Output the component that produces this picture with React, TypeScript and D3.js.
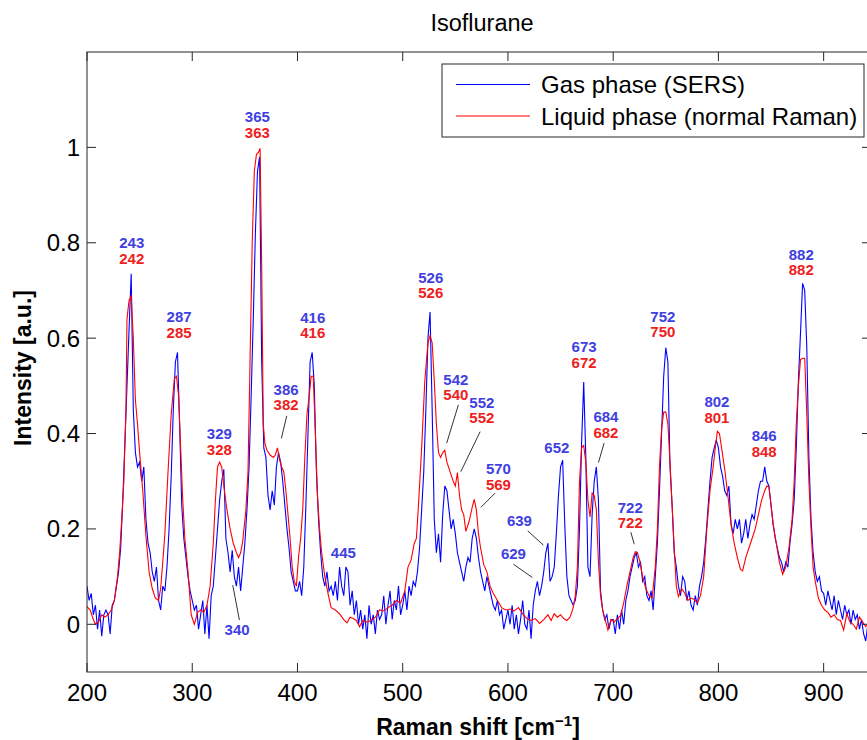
import React from "react";
import * as d3 from "d3";

// ---------- DATA ----------
const xTicks = [200, 300, 400, 500, 600, 700, 800, 900];
const yTicks = [0, 0.2, 0.4, 0.6, 0.8, 1];
const yTickLabels = ["0", "0.2", "0.4", "0.6", "0.8", "1"];

// Gas phase (SERS): sampled every 2 cm^-1 starting at 200
const gasStart = 200;
const gasStep = 2;
const gasValues = [
  0.080, 0.050, 0.065, 0.020, 0.040, -0.010, 0.030, -0.025, 0.020, 0.030,
  0.020, -0.020, 0.040, 0.050, 0.080, 0.110, 0.160, 0.260, 0.380, 0.500,
  0.620, 0.735, 0.450, 0.360, 0.330, 0.340, 0.300, 0.330, 0.220, 0.170,
  0.150, 0.110, 0.090, 0.120, 0.050, 0.030, 0.080, 0.070, 0.120, 0.200,
  0.310, 0.450, 0.550, 0.570, 0.420, 0.250, 0.180, 0.140, 0.100, 0.070,
  0.050, 0.030, 0.040, -0.010, 0.020, 0.050, -0.020, 0.040, -0.030, 0.060,
  0.080, 0.140, 0.200, 0.260, 0.300, 0.325, 0.180, 0.150, 0.110, 0.155,
  0.100, 0.080, 0.120, 0.070, 0.120, 0.170, 0.240, 0.330, 0.480, 0.640,
  0.820, 0.950, 0.980, 0.550, 0.370, 0.350, 0.270, 0.240, 0.280, 0.250,
  0.330, 0.360, 0.340, 0.300, 0.250, 0.200, 0.160, 0.110, 0.090, 0.070,
  0.070, 0.090, 0.060, 0.120, 0.250, 0.400, 0.550, 0.570, 0.500, 0.320,
  0.220, 0.150, 0.100, 0.080, 0.110, 0.070, 0.080, 0.060, 0.090, 0.050,
  0.120, 0.080, 0.060, 0.120, 0.110, 0.040, 0.070, 0.020, 0.050, 0.000,
  0.030, -0.010, 0.020, -0.030, 0.040, 0.000, 0.020, -0.020, 0.030, 0.010,
  0.020, 0.060, 0.000, 0.040, 0.070, 0.010, 0.050, 0.030, 0.080, 0.020,
  0.040, 0.070, 0.030, 0.080, 0.060, 0.090, 0.080, 0.110, 0.160, 0.240,
  0.320, 0.450, 0.600, 0.655, 0.450, 0.220, 0.150, 0.190, 0.130, 0.230,
  0.290, 0.280, 0.240, 0.200, 0.220, 0.190, 0.150, 0.130, 0.110, 0.090,
  0.120, 0.140, 0.130, 0.180, 0.200, 0.180, 0.140, 0.110, 0.090, 0.070,
  0.100, 0.080, 0.060, 0.040, 0.030, 0.050, 0.020, 0.030, -0.010, 0.010,
  0.030, 0.000, 0.040, -0.010, 0.020, -0.020, 0.010, 0.050, 0.000, -0.010,
  0.030, -0.030, 0.040, 0.070, 0.090, 0.060, 0.080, 0.110, 0.150, 0.170,
  0.090, 0.100, 0.120, 0.190, 0.270, 0.330, 0.344, 0.210, 0.100, 0.060,
  0.050, 0.040, 0.050, 0.080, 0.200, 0.380, 0.508, 0.350, 0.120, 0.100,
  0.230, 0.300, 0.330, 0.260, 0.070, 0.030, 0.010, 0.020, -0.010, 0.010,
  0.010, -0.020, 0.020, -0.010, 0.030, 0.000, 0.050, 0.070, 0.100, 0.120,
  0.140, 0.150, 0.120, 0.130, 0.090, 0.100, 0.060, 0.050, 0.070, 0.030,
  0.100, 0.170, 0.280, 0.400, 0.520, 0.580, 0.550, 0.330, 0.250, 0.150,
  0.120, 0.080, 0.060, 0.100, 0.090, 0.050, 0.070, 0.040, 0.030, 0.060,
  0.040, 0.080, 0.100, 0.130, 0.180, 0.240, 0.300, 0.350, 0.370, 0.386,
  0.370, 0.330, 0.310, 0.280, 0.270, 0.290, 0.210, 0.190, 0.220, 0.200,
  0.220, 0.170, 0.190, 0.220, 0.180, 0.210, 0.230, 0.220, 0.250, 0.280,
  0.300, 0.300, 0.330, 0.300, 0.290, 0.250, 0.210, 0.180, 0.160, 0.140,
  0.130, 0.110, 0.130, 0.120, 0.170, 0.210, 0.260, 0.370, 0.510, 0.610,
  0.715, 0.700, 0.580, 0.350, 0.220, 0.150, 0.110, 0.090, 0.100, 0.070,
  0.065, 0.040, 0.070, 0.050, 0.030, 0.060, 0.020, 0.050, 0.030, 0.010,
  0.040, 0.020, 0.030, 0.000, 0.030, 0.010, 0.020, -0.010, 0.010, -0.020,
  -0.035, 0.000, -0.020, 0.010, -0.010, 0.000,
];

// Liquid phase (normal Raman)
const liquidX = [
  200, 203, 206, 208, 211, 214, 217, 220, 223, 226, 229, 231, 233, 235, 237, 238, 240, 242, 244, 246,
  248, 250, 253, 256, 259, 262, 265, 268, 270, 272, 274, 277, 280, 283, 285, 287, 289, 291, 293, 296,
  299, 302, 305, 308, 311, 314, 317, 320, 322, 324, 326, 328, 330, 333, 336, 339, 342, 344, 346, 348,
  351, 353, 355, 357, 359, 361, 363, 364.5, 366, 367.5, 369, 371, 374, 377, 379, 381, 383, 385, 387, 389,
  391, 393, 395, 397, 399, 401, 403, 405, 407, 409, 411, 413, 415, 417, 419, 421, 423, 426, 429, 432,
  436, 440, 444, 447, 450, 453, 456, 459, 462, 466, 470, 474, 478, 482, 486, 490, 494, 498, 502, 505,
  508, 511, 513, 515, 518, 521, 524, 526, 528, 530, 532, 534, 536, 538, 540, 542, 545, 548, 550, 552,
  554, 556, 558, 560, 563, 566, 568, 570, 572, 574, 577, 580, 583, 586, 590, 594, 598, 602, 606, 610,
  614, 618, 622, 626, 630, 634, 638, 641, 644, 647, 650, 653, 656, 659, 662, 664, 666, 668, 670, 672,
  674, 676, 678, 680, 682, 684, 686, 688, 690, 693, 695, 698, 701, 704, 707, 710, 713, 716, 719, 721,
  723, 725, 728, 731, 734, 737, 740, 742, 744, 746, 748, 750, 752, 754, 756, 758, 760, 762, 765, 768,
  771, 774, 777, 780, 783, 786, 789, 792, 795, 797, 799, 801, 803, 806, 809, 812, 815, 818, 821, 823,
  826, 829, 832, 835, 838, 841, 844, 846, 848, 850, 852, 855, 858, 861, 864, 867, 870, 872, 874, 876,
  878, 880, 882, 884, 886, 888, 890, 892, 895, 898, 901, 904, 907, 910, 913, 916, 919, 922, 925, 928,
  931, 934, 937, 940, 944, 948, 950,
];
const liquidY = [
  0.037, 0.030, 0.010, 0.000, 0.005, 0.020, 0.015, 0.020, 0.030, 0.050, 0.100, 0.150, 0.220, 0.300, 0.450, 0.640, 0.680, 0.688, 0.600, 0.470,
  0.420, 0.360, 0.280, 0.185, 0.110, 0.075, 0.055, 0.050, 0.075, 0.130, 0.190, 0.320, 0.440, 0.515, 0.520, 0.480, 0.370, 0.260, 0.180, 0.110,
  0.020, 0.000, 0.025, 0.030, 0.025, 0.040, 0.080, 0.170, 0.260, 0.330, 0.340, 0.330, 0.290, 0.240, 0.200, 0.170, 0.150, 0.140, 0.150, 0.175,
  0.240, 0.320, 0.560, 0.800, 0.950, 0.985, 0.990, 0.998, 0.750, 0.420, 0.380, 0.365, 0.355, 0.350, 0.355, 0.370, 0.345, 0.330, 0.320, 0.280,
  0.230, 0.180, 0.120, 0.090, 0.080, 0.140, 0.180, 0.240, 0.350, 0.440, 0.475, 0.520, 0.520, 0.400, 0.270, 0.200, 0.150, 0.100, 0.065, 0.035,
  0.030, 0.022, 0.010, 0.003, 0.015, 0.012, 0.008, -0.005, 0.008, 0.005, 0.008, 0.015, 0.030, 0.028, 0.035, 0.040, 0.050, 0.045, 0.070, 0.120,
  0.135, 0.170, 0.180, 0.250, 0.370, 0.510, 0.590, 0.605, 0.590, 0.510, 0.420, 0.360, 0.350, 0.360, 0.365, 0.340, 0.320, 0.300, 0.290, 0.318,
  0.270, 0.240, 0.230, 0.195, 0.215, 0.245, 0.262, 0.240, 0.190, 0.160, 0.125, 0.110, 0.080, 0.065, 0.050, 0.035, 0.030, 0.032, 0.028, 0.035,
  0.022, 0.012, 0.008, 0.012, 0.002, 0.010, 0.020, 0.008, 0.022, 0.015, 0.020, 0.012, 0.008, 0.015, 0.035, 0.060, 0.120, 0.300, 0.370, 0.375,
  0.340, 0.260, 0.225, 0.275, 0.270, 0.240, 0.130, 0.060, 0.030, 0.005, -0.012, 0.010, 0.005, 0.012, 0.018, 0.045, 0.080, 0.110, 0.140, 0.152,
  0.150, 0.135, 0.100, 0.075, 0.060, 0.055, 0.120, 0.200, 0.330, 0.410, 0.445, 0.445, 0.420, 0.340, 0.250, 0.160, 0.080, 0.058, 0.075, 0.065,
  0.050, 0.055, 0.052, 0.045, 0.060, 0.100, 0.200, 0.280, 0.330, 0.370, 0.405, 0.400, 0.370, 0.325, 0.270, 0.210, 0.170, 0.140, 0.115, 0.112,
  0.140, 0.160, 0.180, 0.200, 0.230, 0.260, 0.280, 0.290, 0.288, 0.250, 0.210, 0.170, 0.130, 0.105, 0.120, 0.160, 0.220, 0.300, 0.420, 0.500,
  0.555, 0.558, 0.558, 0.440, 0.300, 0.200, 0.120, 0.090, 0.055, 0.040, 0.030, 0.025, 0.015, 0.020, 0.010, 0.008, -0.012, 0.022, 0.005, 0.000,
  -0.010, 0.015, 0.005, -0.005, 0.005, 0.000, 0.005,
];

// Peak annotations: x (cm^-1) and y (intensity) of the label anchor
const pairLabels = [
  { gas: "243", liquid: "242", x: 242.5, y: 0.8 },
  { gas: "287", liquid: "285", x: 287.5, y: 0.645 },
  { gas: "329", liquid: "328", x: 325.8, y: 0.4 },
  { gas: "365", liquid: "363", x: 361.9, y: 1.064 },
  { gas: "386", liquid: "382", x: 389.2, y: 0.493 },
  { gas: "416", liquid: "416", x: 414.5, y: 0.644 },
  { gas: "526", liquid: "526", x: 526.7, y: 0.728 },
  { gas: "542", liquid: "540", x: 550.5, y: 0.514 },
  { gas: "552", liquid: "552", x: 575.2, y: 0.466 },
  { gas: "570", liquid: "569", x: 591.0, y: 0.326 },
  { gas: "673", liquid: "672", x: 672.4, y: 0.582 },
  { gas: "684", liquid: "682", x: 693.1, y: 0.435 },
  { gas: "722", liquid: "722", x: 716.2, y: 0.245 },
  { gas: "752", liquid: "750", x: 747.2, y: 0.646 },
  { gas: "802", liquid: "801", x: 798.6, y: 0.467 },
  { gas: "846", liquid: "848", x: 843.5, y: 0.395 },
  { gas: "882", liquid: "882", x: 878.7, y: 0.776 },
];
const gasOnlyLabels = [
  { text: "445", x: 443.6, y: 0.151 },
  { text: "340", x: 342.6, y: -0.01 },
  { text: "639", x: 610.9, y: 0.217 },
  { text: "629", x: 605.2, y: 0.149 },
  { text: "652", x: 646.5, y: 0.37 },
];
const leaders = [
  { x1: 389.8, y1: 0.437, x2: 384.7, y2: 0.39 },
  { x1: 338.5, y1: 0.082, x2: 344.8, y2: 0.009 },
  { x1: 552.9, y1: 0.46, x2: 541.8, y2: 0.38 },
  { x1: 573.6, y1: 0.404, x2: 555.2, y2: 0.32 },
  { x1: 587.8, y1: 0.275, x2: 574.2, y2: 0.245 },
  { x1: 618.8, y1: 0.196, x2: 633.7, y2: 0.166 },
  { x1: 605.2, y1: 0.126, x2: 623.3, y2: 0.098 },
  { x1: 691.4, y1: 0.38, x2: 686.0, y2: 0.339 },
  { x1: 716.8, y1: 0.193, x2: 720.0, y2: 0.168 },
];

const seriesNames = ["Gas phase (SERS)", "Liquid phase (normal Raman)"];

// ---------- LAYOUT ----------
const W = 867;
const H = 740;
const left = 87;
const right = 871;
const top = 52;
const bottom = 672;
const FONT = "'Liberation Sans', Arial, Helvetica, sans-serif";
const BLUE = "#0000ff";
const RED = "#ff0000";
const LBLUE = "#4040e0";
const LRED = "#ee2020";
const AX = "#262626";

export default function App() {
  const x = d3.scaleLinear().domain([200, 945]).range([left, right]);
  const y = d3.scaleLinear().domain([-0.1, 1.2]).range([bottom, top]);

  const gasData = gasValues.map((v, i) => [gasStart + i * gasStep, v] as [number, number]);
  const liquidData = liquidX.map((v, i) => [v, liquidY[i]] as [number, number]);

  const line = d3
    .line<[number, number]>()
    .x((d) => x(d[0]))
    .y((d) => y(d[1]));

  const tick = 9;

  return (
    <svg
      width={W}
      height={H}
      style={{ position: "absolute", left: 0, top: 0, background: "#fff" }}
      fontFamily={FONT}
    >
      <rect x={0} y={0} width={W} height={H} fill="#fff" />
      <defs>
        <clipPath id="plotclip">
          <rect x={left} y={top} width={right - left} height={bottom - top} />
        </clipPath>
      </defs>

      {/* title */}
      <text x={482} y={31} textAnchor="middle" fontSize={23.5} fill="#000">
        Isoflurane
      </text>

      {/* data */}
      <g clipPath="url(#plotclip)">
        <path d={line(gasData) || ""} fill="none" stroke={BLUE} strokeWidth={1.1} />
        <path d={line(liquidData) || ""} fill="none" stroke={RED} strokeWidth={1.1} />
      </g>

      {/* frame */}
      <rect
        x={left}
        y={top}
        width={right - left}
        height={bottom - top}
        fill="none"
        stroke={AX}
        strokeWidth={1}
      />

      {/* x ticks */}
      {xTicks.map((t) => (
        <g key={"xt" + t}>
          <line x1={x(t)} x2={x(t)} y1={bottom} y2={bottom - tick} stroke={AX} />
          <line x1={x(t)} x2={x(t)} y1={top} y2={top + tick} stroke={AX} />
          <text x={x(t)} y={701} textAnchor="middle" fontSize={24} fill="#000">
            {t}
          </text>
        </g>
      ))}

      {/* y ticks */}
      {yTicks.map((t, i) => (
        <g key={"yt" + t}>
          <line x1={left} x2={left + tick} y1={y(t)} y2={y(t)} stroke={AX} />
          <line x1={right} x2={right - tick} y1={y(t)} y2={y(t)} stroke={AX} />
          <text
            x={80}
            y={y(t)}
            textAnchor="end"
            dominantBaseline="central"
            fontSize={24}
            fill="#000"
          >
            {yTickLabels[i]}
          </text>
        </g>
      ))}

      {/* axis labels */}
      <text x={478} y={735} textAnchor="middle" fontSize={23} fontWeight="bold" fill="#000">
        Raman shift [cm
        <tspan dy={-9} fontSize={15}>
          −1
        </tspan>
        <tspan dy={9}>]</tspan>
      </text>
      <text
        transform={`translate(31, 368) rotate(-90)`}
        textAnchor="middle"
        fontSize={23}
        fontWeight="bold"
        fill="#000"
      >
        Intensity [a.u.]
      </text>

      {/* leader lines */}
      {leaders.map((l, i) => (
        <line
          key={"ld" + i}
          x1={x(l.x1)}
          y1={y(l.y1)}
          x2={x(l.x2)}
          y2={y(l.y2)}
          stroke="#333"
          strokeWidth={1}
        />
      ))}

      {/* peak labels */}
      {pairLabels.map((p, i) => (
        <g key={"pl" + i} fontSize={15} fontWeight="bold" textAnchor="middle">
          <text x={x(p.x)} y={y(p.y)} dominantBaseline="central" fill={LBLUE}>
            {p.gas}
          </text>
          <text x={x(p.x)} y={y(p.y) + 15.5} dominantBaseline="central" fill={LRED}>
            {p.liquid}
          </text>
        </g>
      ))}
      {gasOnlyLabels.map((p, i) => (
        <text
          key={"gl" + i}
          x={x(p.x)}
          y={y(p.y)}
          dominantBaseline="central"
          textAnchor="middle"
          fontSize={15}
          fontWeight="bold"
          fill={LBLUE}
        >
          {p.text}
        </text>
      ))}

      {/* legend */}
      <g>
        <rect x={442} y={64} width={422} height={73} fill="#fff" stroke={AX} strokeWidth={1} />
        <line x1={456} x2={530} y1={84.5} y2={84.5} stroke={BLUE} strokeWidth={1.1} />
        <line x1={456} x2={530} y1={116} y2={116} stroke={RED} strokeWidth={1.1} />
        <text x={541} y={84.5} dominantBaseline="central" fontSize={24} fill="#000">
          {seriesNames[0]}
        </text>
        <text x={541} y={116} dominantBaseline="central" fontSize={24} fill="#000">
          {seriesNames[1]}
        </text>
      </g>
    </svg>
  );
}
